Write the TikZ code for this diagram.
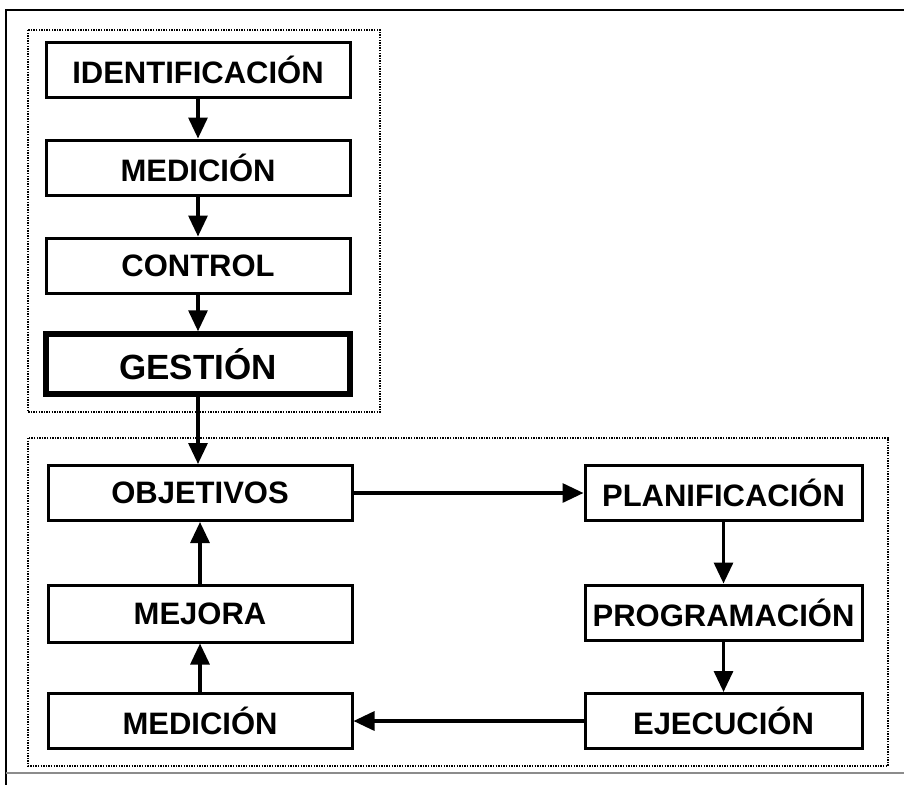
\documentclass[tikz,border=0pt]{standalone}
\usepackage{fontspec}
\setmainfont{Liberation Sans}
\usetikzlibrary{arrows.meta}
\begin{document}
\begin{tikzpicture}[x=1pt,y=-1pt,
  box/.style={draw,line width=3pt,rectangle,inner sep=0pt,font=\bfseries\fontsize{31}{34}\selectfont},
  lbox/.style={box,minimum width=304pt,minimum height=55pt},
  rbox/.style={box,minimum width=277pt,minimum height=55pt},
  arr/.style={line width=3.2pt,-{Triangle[length=21pt,width=19pt]}},
  grp/.style={line width=1.6pt,dash pattern=on 1.4pt off 1.2pt},
  frame/.style={line width=2pt}]
\useasboundingbox (0,0) rectangle (904,785);
% outer frame
\coordinate (ftr) at (904,10);
\coordinate (ftl) at (6,10);
\coordinate (fbl) at (6,785);
\coordinate (fbl2) at (6,773);
\coordinate (fbr) at (904,773);
\draw[frame] (ftr) -- (ftl) -- (fbl);
\draw[frame,black!45] (fbl2) -- (fbr);
% groups
\draw[grp] (28,30) rectangle (380,412);
\draw[grp] (28,438) rectangle (888,766);
% nodes
\node[lbox] (id) at (198,70) {IDENTIFICACIÓN};
\node[lbox] (med1) at (198,167.5) {MEDICIÓN};
\node[lbox] (ctrl) at (198,265.5) {CONTROL};
\node[box,line width=5.5pt,minimum width=304pt,minimum height=60pt,font=\bfseries\fontsize{35}{38}\selectfont] (gest) at (198,364) {GESTIÓN};
\node[lbox] (obj) at (200,493) {OBJETIVOS};
\node[lbox,minimum height=57pt] (mej) at (200,613.5) {MEJORA};
\node[lbox] (med2) at (200,721) {MEDICIÓN};
\node[rbox] (plan) at (723.5,493) {PLANIFICACIÓN};
\node[rbox] (prog) at (723.5,612.5) {PROGRAMACIÓN};
\node[rbox] (ejec) at (723.5,721) {EJECUCIÓN};
% connectors
\draw[arr] (id) -- (med1);
\draw[arr] (med1) -- (ctrl);
\draw[arr] (ctrl) -- (gest);
\draw[arr] (gest.south) -- (gest.south |- obj.north);
\draw[arr] (obj) -- (plan);
\draw[arr] (plan) -- (prog);
\draw[arr] (prog) -- (ejec);
\draw[arr] (ejec) -- (med2);
\draw[arr] (med2) -- (mej);
\draw[arr] (mej) -- (obj);
\end{tikzpicture}
\end{document}
